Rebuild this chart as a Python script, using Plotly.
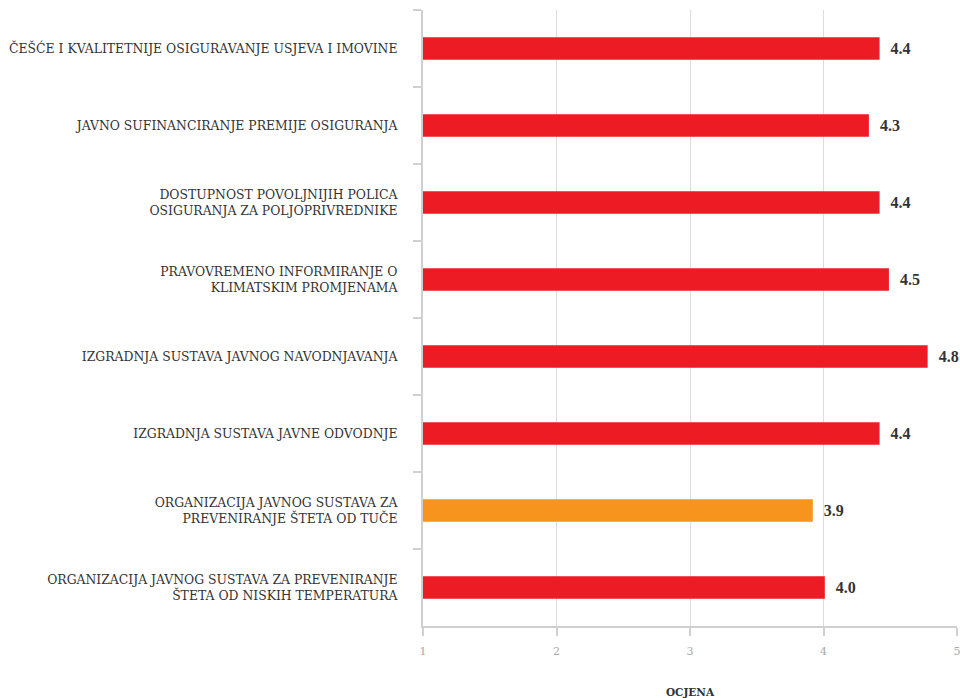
import plotly.graph_objects as go

categories = [
    "ČEŠĆE I KVALITETNIJE OSIGURAVANJE USJEVA I IMOVINE",
    "JAVNO SUFINANCIRANJE PREMIJE OSIGURANJA",
    "DOSTUPNOST POVOLJNIJIH POLICA<br>OSIGURANJA ZA POLJOPRIVREDNIKE",
    "PRAVOVREMENO INFORMIRANJE O<br>KLIMATSKIM PROMJENAMA",
    "IZGRADNJA SUSTAVA JAVNOG NAVODNJAVANJA",
    "IZGRADNJA SUSTAVA JAVNE ODVODNJE",
    "ORGANIZACIJA JAVNOG SUSTAVA ZA<br>PREVENIRANJE ŠTETA OD TUČE",
    "ORGANIZACIJA JAVNOG SUSTAVA ZA PREVENIRANJE<br>ŠTETA OD NISKIH TEMPERATURA",
]
scores = [4.42, 4.34, 4.42, 4.49, 4.78, 4.42, 3.92, 4.01]
bar_colors = ["#ED1C24", "#ED1C24", "#ED1C24", "#ED1C24", "#ED1C24", "#ED1C24", "#F7941D", "#ED1C24"]
x_ticks = [1, 2, 3, 4, 5]

fig = go.Figure(go.Bar(
    x=[s - 1 for s in scores],
    base=1,
    y=categories,
    orientation="h",
    marker=dict(color=bar_colors, line=dict(width=0)),
    text=["\u00a0\u00a0" + f"{s:.1f}" for s in scores],
    textposition="outside",
    textfont=dict(family="Liberation Serif", size=16, color="#333333", weight="bold"),
    cliponaxis=False,
    width=0.29,
    hoverinfo="skip",
))

fig.update_layout(
    width=960, height=698,
    margin=dict(l=423, r=3, t=10, b=72, autoexpand=False),
    plot_bgcolor="white", paper_bgcolor="white",
    showlegend=False,
)
fig.update_xaxes(
    range=[1, 5], tickvals=x_ticks, ticktext=[str(t) for t in x_ticks],
    showgrid=True, gridcolor="#dddddd", gridwidth=1,
    showline=True, linecolor="#d0d0d0", linewidth=2,
    ticks="outside", ticklen=8, tickcolor="#d0d0d0", tickwidth=2,
    tickfont=dict(family="DejaVu Serif", size=11, color="#aaaaaa"),
    ticklabelstandoff=6,
    ticklabeloverflow="allow",
    automargin=False,
    zeroline=False,
    title=dict(text="OCJENA", font=dict(family="DejaVu Serif", size=10.5, color="#333333", weight="bold"), standoff=31),
)
fig.update_yaxes(
    autorange="reversed", type="category",
    showline=True, linecolor="#d0d0d0", linewidth=2,
    ticks="outside", tickson="boundaries", ticklen=8, tickcolor="#d0d0d0", tickwidth=2,
    ticklabelstandoff=21,
    tickfont=dict(family="DejaVu Serif", size=12.4, color="#333333"),
    automargin=False,
    showgrid=False,
)

fig.write_html(
    "out.html",
    config={"displayModeBar": False},
    post_script="document.body.style.margin='0';document.body.style.overflow='hidden';",
)
